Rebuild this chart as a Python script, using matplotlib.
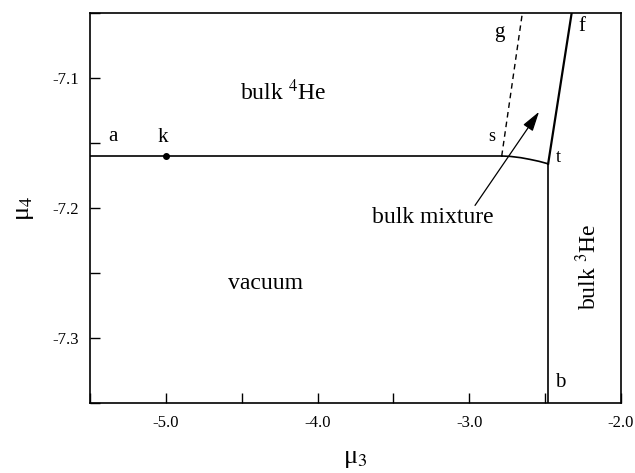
import numpy as np
import matplotlib
matplotlib.use("Agg")
import matplotlib.pyplot as plt
from matplotlib.ticker import MultipleLocator

plt.rcParams['font.family'] = ['Liberation Serif', 'DejaVu Serif']
plt.rcParams['mathtext.fontset'] = 'stix'

# phase boundaries (mu3, mu4)
coex_x = [-5.5, -2.786]                # a -> s, bulk 4He / vacuum
coex_y = [-7.16, -7.16]
st_x = [-2.786, -2.73, -2.66, -2.60, -2.54, -2.48]   # s -> t
st_y = [-7.16, -7.1603, -7.1613, -7.1626, -7.1641, -7.166]
tb_x = [-2.48, -2.48]                  # t -> b
tb_y = [-7.166, -7.35]
tf_x = [-2.48, -2.325]                 # t -> f
tf_y = [-7.166, -7.05]
sg_x = [-2.786, -2.65]                 # s -> g (dashed)
sg_y = [-7.16, -7.05]
k_pt = (-5.0, -7.16)

fig = plt.figure(figsize=(6.35, 4.73), dpi=100)
ax = fig.add_axes([0.1417, 0.148, 0.8362, 0.8245])

ax.plot(coex_x, coex_y, color='black', lw=1.2)
ax.plot(st_x, st_y, color='black', lw=1.2)
ax.plot(tb_x, tb_y, color='black', lw=1.2)
ax.plot(tf_x, tf_y, color='black', lw=1.6)
ax.plot(sg_x, sg_y, color='black', lw=1.0, ls=(0, (4, 3)))
ax.plot(*k_pt, 'o', color='black', ms=4)

ax.annotate('', xy=(-2.54, -7.126), xytext=(-2.962, -7.198),
            arrowprops=dict(arrowstyle='-|>,head_length=1.2,head_width=0.35',
                            color='black', lw=0.9, shrinkA=0, shrinkB=0))

big = 17
ax.text(-4.228, -7.111, r'bulk $^{4}$He', fontsize=big, ha='center', va='center')
ax.text(-4.346, -7.258, 'vacuum', fontsize=big, ha='center', va='center')
ax.text(-3.239, -7.207, 'bulk mixture', fontsize=big, ha='center', va='center')
ax.text(-2.217, -7.245, r'bulk $^{3}$He', fontsize=big, ha='center', va='center',
        rotation=90)
ax.text(-5.348, -7.145, 'a', fontsize=15, ha='center', va='center')
ax.text(-5.019, -7.146, 'k', fontsize=15, ha='center', va='center')
ax.text(-2.852, -7.145, 's', fontsize=13, ha='center', va='center')
ax.text(-2.804, -7.065, 'g', fontsize=15, ha='center', va='center')
ax.text(-2.259, -7.060, 'f', fontsize=15, ha='center', va='center')
ax.text(-2.415, -7.161, 't', fontsize=13, ha='center', va='center')
ax.text(-2.402, -7.334, 'b', fontsize=15, ha='center', va='center')

ax.set_xlim(-5.5, -2.0)
ax.set_ylim(-7.35, -7.05)
ax.xaxis.set_minor_locator(MultipleLocator(0.5))
ax.yaxis.set_minor_locator(MultipleLocator(0.05))
ax.set_xticks([-5.0, -4.0, -3.0, -2.0])
ax.set_xticklabels(['-5.0', '-4.0', '-3.0', '-2.0'])
ax.set_yticks([-7.1, -7.2, -7.3])
ax.set_yticklabels(['-7.1', '-7.2', '-7.3'])
ax.tick_params(which='both', direction='in', top=False, right=False,
               labelsize=12, width=1.0)
ax.tick_params(which='major', length=7, pad=9)
ax.tick_params(axis='y', which='major', pad=8)
ax.tick_params(which='minor', length=7)
for sp in ax.spines.values():
    sp.set_linewidth(1.2)

ax.set_xlabel('μ$_3$', fontsize=19, labelpad=12)
ax.set_ylabel('μ$_4$', fontsize=19, labelpad=12)

fig.savefig('out.png', dpi=100)
